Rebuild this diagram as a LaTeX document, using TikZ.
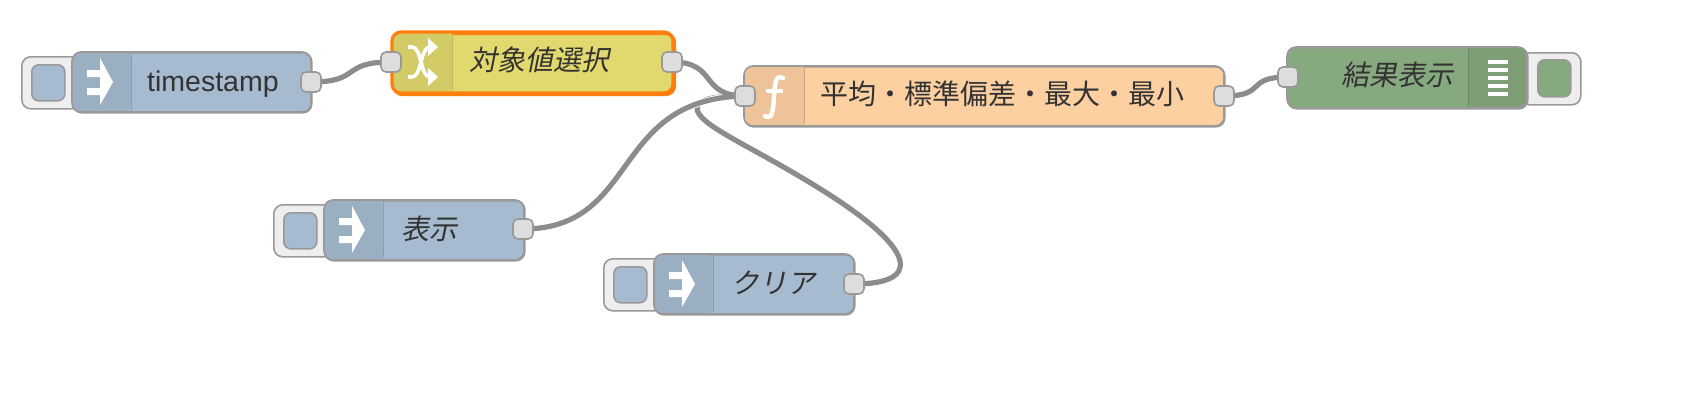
\documentclass[tikz,border=0pt]{standalone}
\usepackage{fontspec}
\setmainfont{Liberation Sans}
\newfontfamily\cjk{Noto Sans CJK JP}
\newfontfamily\cjkit[FakeSlant=0.2]{Noto Sans CJK JP}
\usetikzlibrary{backgrounds}
\definecolor{bordergrey}{HTML}{999999}
\definecolor{wiregrey}{HTML}{8C8C8C}
\definecolor{portgrey}{HTML}{DDDDDD}
\definecolor{btnbg}{HTML}{EEEEEE}
\definecolor{inj}{HTML}{A6BBCF}
\definecolor{injd}{HTML}{9BAFC2}
\definecolor{chg}{HTML}{E2D96E}
\definecolor{chgd}{HTML}{D3CB66}
\definecolor{fun}{HTML}{FDD0A2}
\definecolor{fund}{HTML}{EEC399}
\definecolor{dbg}{HTML}{87A980}
\definecolor{dbgd}{HTML}{7E9E78}
\definecolor{sel}{HTML}{FF7F0E}
\definecolor{txt}{HTML}{333333}
\tikzset{
  body/.style={draw=bordergrey,line width=1.6pt,rounded corners=9pt,inner sep=0pt,anchor=north west},
  btn/.style={draw=bordergrey,line width=1.6pt,fill=btnbg,rounded corners=9pt,inner sep=0pt,anchor=north west},
  btnin/.style={draw=bordergrey,line width=1.6pt,rounded corners=7pt,inner sep=0pt,anchor=north west},
  port/.style={draw=bordergrey,line width=1.6pt,fill=portgrey,rounded corners=5pt,minimum width=20pt,minimum height=20pt,inner sep=0pt},
  lbl/.style={text=txt,font=\fontsize{28}{30}\selectfont,inner sep=0pt,anchor=west},
  wire/.style={draw=wiregrey,line width=5.2pt},
  halo/.style={draw=white,line width=7pt},
  icon/.style={draw=none,fill=white},
}
\newcommand{\injectnode}[5]{%
  \node[btn,minimum width=60pt,minimum height=52pt] (#5btn) at (#1-51,#2+4) {};
  \node[btnin,fill=inj,minimum width=33pt,minimum height=36pt] (#5in) at (#1-41,#2+12) {};
  \node[body,fill=inj,minimum width=#3 pt,minimum height=#4 pt] (#5) at (#1,#2) {};
  \begin{scope}
    \clip[rounded corners=9pt] (#1,#2) rectangle ++(60,#4);
    \fill[injd] (#1,#2) rectangle ++(59,#4);
  \end{scope}
  \draw[draw=bordergrey,line width=1pt] (#1+59,#2+2) -- ++(0,#4-4);
  \draw[draw=bordergrey,line width=1.6pt,rounded corners=9pt] (#1,#2) rectangle ++(#3,#4);
  \fill[icon] (#1+15,#2+18) -- ++(13,0) -- ++(0,-12) -- (#1+41,#2+30) -- (#1+28,#2+53) -- ++(0,-10) -- ++(-13,0) -- ++(0,-7) -- ++(13,0) -- ++(0,-11) -- ++(-13,0) -- cycle;
}
\begin{document}
\begin{tikzpicture}[x=1pt,y=-1pt]
\useasboundingbox (0,0) rectangle (1682,402);

% timestamp
\injectnode{72}{52}{239}{60}{ts}
\node[lbl,font=\fontsize{28.5}{30}\selectfont] (tstext) at (147,84) {timestamp};
\node[port] (tsout) at (311,82) {};

% show
\injectnode{324}{200}{200}{60}{show}
\node[lbl] (showtext) at (401,229) {\cjkit 表示};
\node[port] (showout) at (523,229) {};

% clear
\injectnode{654}{254}{200}{60}{clr}
\node[lbl] (clrtext) at (731,283) {\cjkit クリア};
\node[port] (clrout) at (854,284) {};

% change
\node[body,draw=sel,line width=3.2pt,fill=chg,minimum width=281pt,minimum height=61pt] (chg) at (392,32) {};
\begin{scope}
  \clip[rounded corners=8pt] (393,33) rectangle (671,91);
  \fill[chgd] (393,33) rectangle (452,91);
\end{scope}
\draw[chgd!90!black,line width=1pt] (452,34) -- (452,90);
\draw[sel,line width=3.2pt,rounded corners=9pt] (392,32) rectangle (673,93);
\draw[white,line width=3.6pt] (408,47) -- (412,47) .. controls (422,47) and (420,77) .. (430,77) -- (433,77);
\draw[white,line width=3.6pt] (408,77) -- (412,77) .. controls (422,77) and (420,47) .. (430,47) -- (433,47);
\fill[icon] (428,38) -- (438,47) -- (428,56) -- cycle;
\fill[icon] (428,68) -- (438,77) -- (428,86) -- cycle;
\node[lbl] (chgtext) at (469,60) {\cjkit 対象値選択};
\node[port] (chgin) at (391,62) {};
\node[port] (chgout) at (672,62) {};

% function
\node[body,fill=fun,minimum width=480pt,minimum height=60pt] (fn) at (744,66) {};
\begin{scope}
  \clip[rounded corners=9pt] (744,66) rectangle (1224,126);
  \fill[fund] (744,66) rectangle (804,126);
\end{scope}
\draw[fund!85!black,line width=1pt] (804,68) -- (804,124);
\draw[bordergrey,line width=1.6pt,rounded corners=9pt] (744,66) rectangle (1224,126);
\draw[white,line width=4.4pt,line cap=round] (783,78) .. controls (775,74) and (775,84) .. (774,97) .. controls (773,115) and (771,119) .. (765,116);
\draw[white,line width=3.4pt] (766,91) -- (783,91);
\node[lbl] (fntext) at (820,94) {\cjk 平均・標準偏差・最大・最小};
\node[port] (fnin) at (745,96) {};
\node[port] (fnout) at (1224,96) {};

% debug
\node[btn,minimum width=60pt,minimum height=52pt] (dbgbtn) at (1520,52) {};
\node[btnin,fill=dbg,minimum width=33pt,minimum height=37pt] (dbgin) at (1537,59) {};
\node[body,fill=dbg,minimum width=240pt,minimum height=61pt] (dbg) at (1287,47) {};
\begin{scope}
  \clip[rounded corners=9pt] (1287,47) rectangle (1527,108);
  \fill[dbgd] (1468,47) rectangle (1527,108);
\end{scope}
\draw[dbgd!85!black,line width=1pt] (1468,49) -- (1468,106);
\draw[bordergrey,line width=1.6pt,rounded corners=9pt] (1287,47) rectangle (1527,108);
\foreach \yy in {62,70,78,86,94} \draw[white,line width=3.2pt] (1488,\yy) -- (1508,\yy);
\node[lbl] (dbgtext) at (1341,75) {\cjkit 結果表示};
\node[port] (dbgport) at (1288,77) {};

% wires
\begin{pgfonlayer}{background}
\fill[white] (0,0) rectangle (1682,402);
\path[wire] (clrout.center) .. controls (920,284) and (921,252) .. (822,190) .. controls (750,145) and (697,125) .. (697,108) .. controls (697,97) and (725,96) .. (fnin.center);
\path[halo] (showout.center) .. controls (640,229) and (610,98) .. (fnin.center);
\path[wire] (showout.center) .. controls (640,229) and (610,98) .. (fnin.center);
\path[wire] (tsout.center) .. controls (362,82) and (340,62) .. (chgin.center);
\path[wire] (chgout.center) .. controls (718,62) and (699,96) .. (fnin.center);
\path[wire] (fnout.center) .. controls (1268,96) and (1244,77) .. (dbgport.center);
\end{pgfonlayer}
\end{tikzpicture}
\end{document}
